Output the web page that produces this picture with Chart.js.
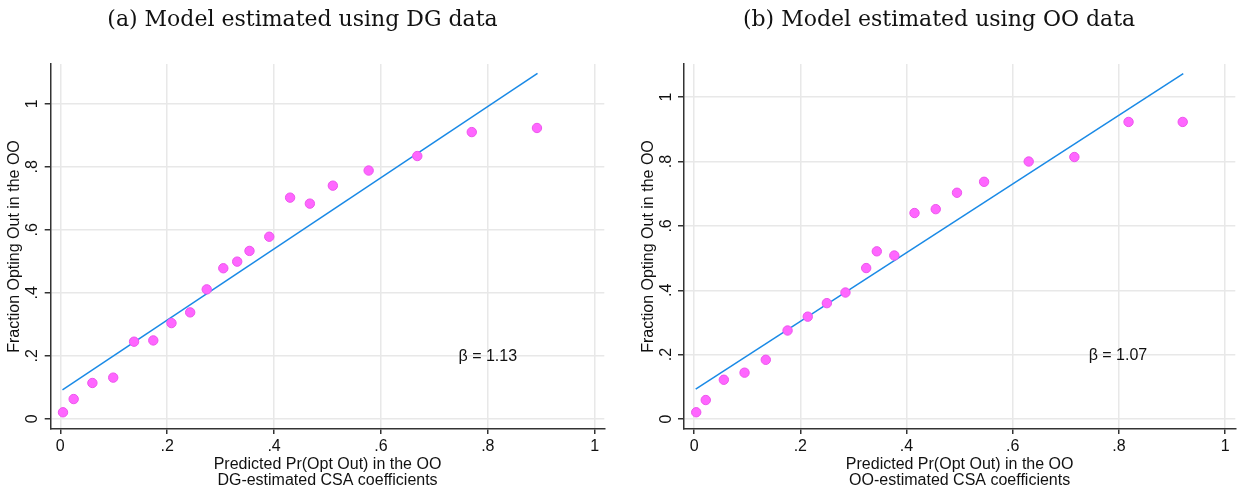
<!DOCTYPE html>
<html>
<head>
<meta charset="utf-8">
<script src="https://cdn.jsdelivr.net/npm/chart.js@4"></script>
<style>
  body { margin: 0; background: #fff; }
  .box { position: absolute; top: 0; }
</style>
</head>
<body>
<div class="box" style="left:0px"><canvas id="chartA" width="610" height="489"></canvas></div>
<div class="box" style="left:639px"><canvas id="chartB" width="602" height="489"></canvas></div>
<script>
// panel (a): model estimated using DG data
var dgPredicted = [0.005, 0.025, 0.060, 0.099, 0.138, 0.174, 0.208, 0.243, 0.274, 0.305, 0.331, 0.354, 0.391, 0.430, 0.467, 0.510, 0.577, 0.668, 0.770, 0.892]
var dgObserved = [0.021, 0.063, 0.114, 0.131, 0.245, 0.249, 0.304, 0.338, 0.411, 0.478, 0.499, 0.533, 0.578, 0.702, 0.683, 0.740, 0.788, 0.834, 0.910, 0.923]
var dgFitX = [0.004, 0.893]
var dgFitY = [0.092, 1.096]
var dgBeta = 'β = 1.13'

// panel (b): model estimated using OO data
var ooPredicted = [0.004, 0.022, 0.056, 0.095, 0.135, 0.176, 0.214, 0.250, 0.285, 0.324, 0.344, 0.377, 0.415, 0.455, 0.495, 0.546, 0.630, 0.716, 0.818, 0.920]
var ooObserved = [0.021, 0.059, 0.122, 0.144, 0.184, 0.275, 0.318, 0.360, 0.393, 0.469, 0.521, 0.508, 0.640, 0.652, 0.703, 0.737, 0.800, 0.814, 0.923, 0.923]
var ooFitX = [0.003, 0.921]
var ooFitY = [0.093, 1.073]
var ooBeta = 'β = 1.07'

var tickValues = [0, 0.2, 0.4, 0.6, 0.8, 1]
var tickLabels = ['0', '.2', '.4', '.6', '.8', '1']

var sans = 'Liberation Sans'
var axisColor = '#333'
var gridColor = '#e8e8e8'

function toPoints(xs, ys) {
  var pts = []
  for (let i = 0; i < xs.length; i++) pts.push({x: xs[i], y: ys[i]})
  return pts
}

function fixedTicks(scale) {
  scale.ticks = tickValues.map(function (v) { return {value: v} })
}

function tickLabel(value) {
  var i = tickValues.indexOf(value)
  return i >= 0 ? tickLabels[i] : ''
}

// writes the beta annotation at a data position
var betaLabel = {
  id: 'betaLabel',
  afterDatasetsDraw: function (chart) {
    var o = chart.options.plugins.betaLabel
    var ctx = chart.ctx
    ctx.save()
    ctx.font = '16px ' + sans
    ctx.fillStyle = '#111'
    ctx.textAlign = 'center'
    ctx.textBaseline = 'middle'
    ctx.fillText(o.text, chart.scales.x.getPixelForValue(o.x), chart.scales.y.getPixelForValue(o.y))
    ctx.restore()
  }
}

function makeChart(id, cfg) {
  return new Chart(document.getElementById(id).getContext('2d'), {
    type: 'scatter',
    data: {
      datasets: [{
        data: toPoints(cfg.px, cfg.py),
        backgroundColor: '#ff66ff',
        borderColor: '#ec55ec',
        borderWidth: 1,
        pointRadius: 4.7,
        order: 0
      }, {
        data: toPoints(cfg.fx, cfg.fy),
        showLine: true,
        borderColor: '#1a8ae6',
        borderWidth: 1.5,
        pointRadius: 0,
        order: 1
      }]
    },
    options: {
      responsive: false,
      animation: false,
      layout: {padding: {left: 0, right: cfg.padRight, top: 0, bottom: 0}},
      plugins: {
        legend: {display: false},
        tooltip: {enabled: false},
        title: {
          display: true,
          text: cfg.title,
          color: '#111',
          font: {family: 'DejaVu Serif', size: 22, weight: 'normal', lineHeight: 1.2},
          padding: {top: 6.8, bottom: 30.8}
        },
        betaLabel: {text: cfg.beta, x: cfg.betaX, y: cfg.betaY}
      },
      scales: {
        x: {
          type: 'linear',
          min: cfg.xMin, max: cfg.xMax,
          afterBuildTicks: fixedTicks,
          afterFit: function (s) { s.height = 60 },
          grid: {color: gridColor, lineWidth: 1.5, tickColor: axisColor, tickLength: 5},
          border: {color: axisColor, width: 1.5},
          ticks: {callback: tickLabel, color: '#111', font: {family: sans, size: 16}, padding: 3, maxRotation: 0},
          title: {
            display: true,
            text: ['Predicted Pr(Opt Out) in the OO', cfg.xSub],
            color: '#111',
            font: {family: sans, size: 16, lineHeight: 1},
            padding: {top: 0, bottom: 0.5}
          }
        },
        y: {
          type: 'linear',
          min: cfg.yMin, max: cfg.yMax,
          afterBuildTicks: fixedTicks,
          afterFit: function (s) { s.width = cfg.yWidth },
          grid: {color: gridColor, lineWidth: 1.5, tickColor: axisColor, tickLength: 6},
          border: {color: axisColor, width: 1.5},
          ticks: {callback: tickLabel, color: '#111', font: {family: sans, size: 16}, padding: 5,
                  minRotation: 90, maxRotation: 90, crossAlign: 'center'},
          title: {
            display: true,
            text: 'Fraction Opting Out in the OO',
            color: '#111',
            font: {family: sans, size: 16, lineHeight: 1},
            padding: {top: cfg.yTitlePad, bottom: 0}
          }
        }
      }
    },
    plugins: [betaLabel]
  })
}

makeChart('chartA', {
  title: '(a) Model estimated using DG data',
  px: dgPredicted, py: dgObserved, fx: dgFitX, fy: dgFitY,
  beta: dgBeta, betaX: 0.80, betaY: 0.198,
  xSub: 'DG-estimated CSA coefficients',
  xMin: -0.018, xMax: 1.018, yMin: -0.032, yMax: 1.126,
  yWidth: 50.7, padRight: 5, yTitlePad: 7
})

makeChart('chartB', {
  title: '(b) Model estimated using OO data',
  px: ooPredicted, py: ooObserved, fx: ooFitX, fy: ooFitY,
  beta: ooBeta, betaX: 0.798, betaY: 0.197,
  xSub: 'OO-estimated CSA coefficients',
  xMin: -0.019, xMax: 1.019, yMin: -0.031, yMax: 1.103,
  yWidth: 45, padRight: 2, yTitlePad: 1.3
})
</script>
</body>
</html>
